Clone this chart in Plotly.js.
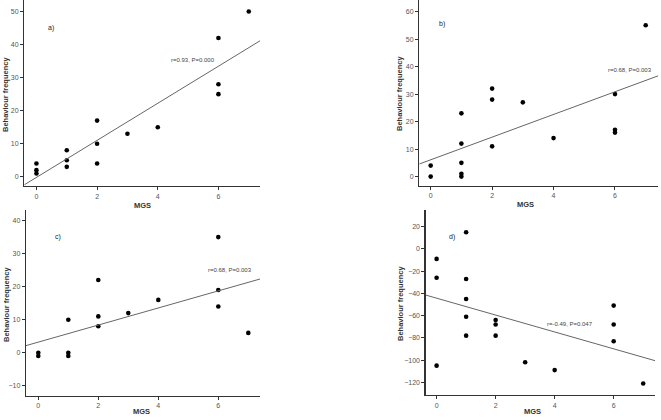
<!DOCTYPE html>
<html><head><meta charset="utf-8">
<script src="https://cdn.plot.ly/plotly-3.0.1.min.js"></script>
<style>html,body{margin:0;padding:0;background:#fff;}#chart{width:661px;height:420px;}</style>
</head><body><div id="chart"></div>
<script>
// MGS scores and behaviour frequencies for each panel
const aX = [0,0,0,1,1,1,2,2,2,3,4,6,6,6,7];
const aY = [4,2,1,8,5,3,17,10,4,13,15,42,28,25,50];
const bX = [0,0,1,1,1,1,1,2,2,2,3,4,6,6,6,7];
const bY = [4,0,23,12,5,1,0,32,28,11,27,14,30,17,16,55];
const cX = [0,0,1,1,1,2,2,2,3,4,6,6,6,7];
const cY = [0,-1,10,0,-1,22,11,8,12,16,35,19,14,6];
const dX = [0,0,0,1,1,1,1,1,2,2,2,3,4,6,6,6,7];
const dY = [-9,-26,-105,15,-27,-45,-61,-78,-64,-68,-78,-102,-109,-51,-68,-83,-121];
const panelLabels = ['a)','b)','c)','d)'];
const stats = ['r=0.93, P=0.000','r=0.68, P=0.003','r=0.68, P=0.003','r=-0.49, P=0.047'];
const xTitle = 'MGS';
const yTitle = 'Behaviour frequency';

const W = 661, H = 420;
const px = v => v / W, py = v => 1 - v / H;

function fit(x, y) {
  const n = x.length;
  const mx = x.reduce((s,v)=>s+v,0)/n, my = y.reduce((s,v)=>s+v,0)/n;
  let sxy = 0, sxx = 0;
  for (let i=0;i<n;i++){ sxy += (x[i]-mx)*(y[i]-my); sxx += (x[i]-mx)**2; }
  const b = sxy/sxx; return [my - b*mx, b];
}

const panels = [
  {x:aX, y:aY, xr:[-0.4,7.37], yr:[-2.8,53.5], dy:10, box:[24.3,260,0,186], lab:[51,28], st:[193,60], yl:[6,95], xl:[142,205]},
  {x:bX, y:bY, xr:[-0.37,7.41], yr:[-3.3,64.2], dy:10, box:[419.3,658.3,0,185.7], lab:[442,24], st:[630,70], yl:[400,94], xl:[525,204]},
  {x:cX, y:cY, xr:[-0.41,7.39], yr:[-13,43.2], dy:10, box:[26,260,210,395.7], lab:[58,237], st:[230,270], yl:[6,305], xl:[141,411]},
  {x:dX, y:dY, xr:[-0.37,7.4], yr:[-131.4,35], dy:20, box:[425.7,655,210,395], lab:[452,237], st:[570,324], yl:[400,304], xl:[532,411]}
];

const data = [], annotations = [];
const layout = {
  width: W, height: H, margin:{l:0,r:0,t:0,b:0}, showlegend:false,
  paper_bgcolor:'#fff', plot_bgcolor:'#fff',
  font:{family:'"Liberation Sans", Arial, sans-serif', size:7, color:'#444'}
};
panels.forEach((p, i) => {
  const k = i === 0 ? '' : String(i+1);
  const xa = 'x'+k, ya = 'y'+k;
  data.push({x:p.x, y:p.y, xaxis:xa, yaxis:ya, type:'scatter', mode:'markers',
    marker:{color:'#000', size:4.6}, hoverinfo:'skip'});
  const [b0, b1] = fit(p.x, p.y);
  data.push({x:[p.xr[0], p.xr[1]], y:[b0 + b1*p.xr[0], b0 + b1*p.xr[1]], xaxis:xa, yaxis:ya,
    type:'scatter', mode:'lines', line:{color:'#666', width:1}, hoverinfo:'skip'});
  const axCommon = {showline:true, linecolor:'#333', linewidth:1.3, ticks:'outside', ticklen:3,
    tickcolor:'#333', tickwidth:1, showgrid:false, zeroline:false,
    tickfont:{size:7, color:'#555', family:'"Liberation Sans", Arial, sans-serif'}};
  layout['xaxis'+k] = Object.assign({}, axCommon, {domain:[px(p.box[0]), px(p.box[1])], range:p.xr,
    dtick:2, tick0:0, anchor:ya});
  layout['yaxis'+k] = Object.assign({}, axCommon, {domain:[py(p.box[3]), py(p.box[2])], range:p.yr,
    dtick:p.dy, tick0:0, anchor:xa});
  annotations.push({xref:'paper', yref:'paper', x:px(p.lab[0]), y:py(p.lab[1]), text:panelLabels[i],
    showarrow:false, font:{size:7, color:'#222'}, xanchor:'center', yanchor:'middle'});
  annotations.push({xref:'paper', yref:'paper', x:px(p.st[0]), y:py(p.st[1]), text:stats[i],
    showarrow:false, font:{size:6, color:'#444'}, xanchor:'center', yanchor:'middle'});
  annotations.push({xref:'paper', yref:'paper', x:px(p.yl[0]), y:py(p.yl[1]), text:'<b>'+yTitle+'</b>',
    textangle:-90, showarrow:false, font:{size:7.5, color:'#333'}, xanchor:'center', yanchor:'middle'});
  annotations.push({xref:'paper', yref:'paper', x:px(p.xl[0]), y:py(p.xl[1]), text:'<b>'+xTitle+'</b>',
    showarrow:false, font:{size:7.5, color:'#333'}, xanchor:'center', yanchor:'middle'});
});
layout.annotations = annotations;
Plotly.newPlot('chart', data, layout, {staticPlot:true, displayModeBar:false});
</script></body></html>
